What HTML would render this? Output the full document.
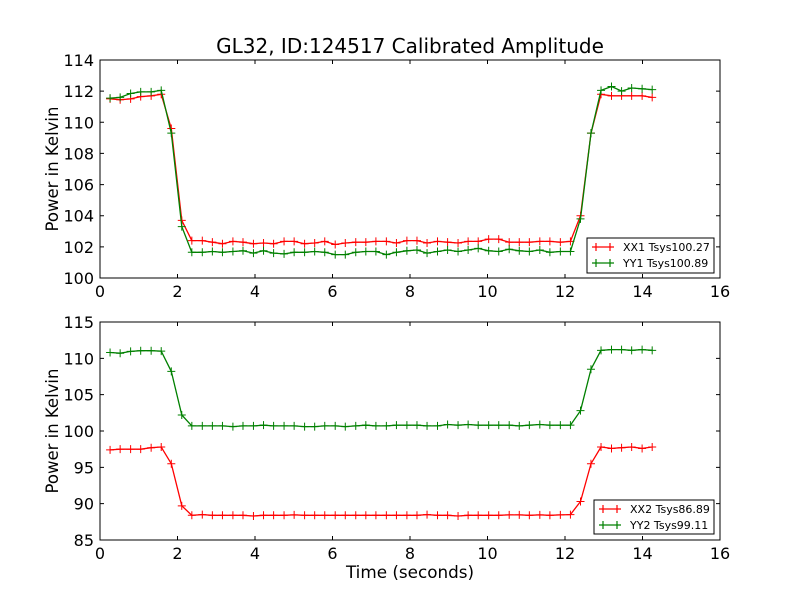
<!DOCTYPE html>
<html><head><meta charset="utf-8"><style>
body{margin:0;background:#fff;}
svg text{font-family:"DejaVu Sans","Liberation Sans",sans-serif;}
</style></head><body>
<svg id="chart" width="800" height="600" xmlns="http://www.w3.org/2000/svg">
<rect width="800" height="600" fill="#fff"/>
<text x="410" y="53" font-size="20" text-anchor="middle">GL32, ID:124517 Calibrated Amplitude</text>
</svg>
<script>
const times = [0.26,0.52,0.79,1.05,1.32,1.58,1.84,2.11,2.37,2.64,2.90,3.16,3.43,3.69,3.96,4.22,4.48,4.75,5.01,5.28,5.54,5.80,6.07,6.33,6.60,6.86,7.12,7.39,7.65,7.92,8.18,8.44,8.71,8.97,9.24,9.50,9.76,10.03,10.29,10.56,10.82,11.08,11.35,11.61,11.88,12.14,12.40,12.67,12.93,13.20,13.46,13.72,13.99,14.25];
const xx1 = [111.5,111.45,111.5,111.65,111.7,111.8,109.6,103.7,102.4,102.4,102.3,102.2,102.35,102.3,102.2,102.25,102.2,102.35,102.35,102.2,102.25,102.35,102.15,102.25,102.3,102.3,102.35,102.35,102.25,102.4,102.4,102.25,102.35,102.3,102.25,102.35,102.35,102.5,102.5,102.3,102.3,102.3,102.35,102.35,102.3,102.35,104.0,109.3,111.8,111.7,111.7,111.7,111.7,111.6];
const yy1 = [111.55,111.6,111.85,111.95,111.95,112.05,109.3,103.3,101.65,101.65,101.7,101.65,101.7,101.75,101.6,101.75,101.6,101.55,101.65,101.65,101.7,101.65,101.5,101.5,101.65,101.7,101.7,101.5,101.65,101.75,101.8,101.6,101.7,101.8,101.7,101.8,101.9,101.75,101.7,101.85,101.75,101.7,101.8,101.65,101.7,101.7,103.8,109.3,112.05,112.3,112.0,112.2,112.15,112.1];
const xx2 = [97.4,97.5,97.5,97.5,97.7,97.8,95.5,89.7,88.4,88.5,88.4,88.4,88.4,88.4,88.3,88.4,88.4,88.4,88.45,88.4,88.4,88.4,88.4,88.4,88.4,88.4,88.4,88.4,88.4,88.4,88.4,88.5,88.4,88.4,88.3,88.4,88.4,88.4,88.4,88.45,88.45,88.4,88.45,88.4,88.45,88.5,90.3,95.5,97.8,97.6,97.7,97.8,97.6,97.8];
const yy2 = [110.8,110.7,110.95,111.05,111.05,111.0,108.2,102.2,100.7,100.7,100.7,100.7,100.6,100.7,100.7,100.8,100.7,100.7,100.7,100.6,100.6,100.7,100.7,100.6,100.7,100.8,100.7,100.7,100.8,100.8,100.8,100.7,100.7,100.9,100.8,100.9,100.8,100.8,100.8,100.8,100.7,100.8,100.9,100.8,100.8,100.8,102.8,108.5,111.1,111.2,111.2,111.1,111.2,111.1];
const xTicks = [0,2,4,6,8,10,12,14,16];
const yTicksTop = [100,102,104,106,108,110,112,114];
const yTicksBot = [85,90,95,100,105,110,115];
const legendTop = ["XX1 Tsys100.27","YY1 Tsys100.89"];
const legendBot = ["XX2 Tsys86.89","YY2 Tsys99.11"];

const NS="http://www.w3.org/2000/svg";
const svg=document.getElementById('chart');
function mk(tag,attrs,parent){const e=document.createElementNS(NS,tag);for(const k in attrs)e.setAttribute(k,attrs[k]);(parent||svg).appendChild(e);return e;}

function panel(name,top,bottom,ymin,ymax,yTicks,series,colors,labels,legBox,showXLabel){
  const L=100,R=720;
  const g=mk('g',{});
  
  
  const xs=v=>L+(v-0)/(16-0)*(R-L);
  const ys=v=>bottom-(v-ymin)/(ymax-ymin)*(bottom-top);
  xTicks.forEach(t=>{
    const x=xs(t);
    const tk=mk('path',{d:`M${x},${bottom}v-4M${x},${top}v4`,stroke:'#000','stroke-width':1},g);
    
    
    const tx=mk('text',{x:x,y:bottom+19,'font-size':16,'text-anchor':'middle'},g);
    tx.textContent=t;
    
    
  });
  yTicks.forEach(t=>{
    const y=ys(t);
    const tk=mk('path',{d:`M${L},${y}h4M${R},${y}h-4`,stroke:'#000','stroke-width':1},g);
    
    
    const tx=mk('text',{x:L-6,y:y+6,'font-size':16,'text-anchor':'end'},g);
    tx.textContent=t;
    
    
  });
  series.forEach((s,si)=>{
    const pts=s.map((v,i)=>xs(times[i]).toFixed(1)+','+ys(v).toFixed(1)).join(' ');
    const pl=mk('polyline',{points:pts,fill:'none',stroke:colors[si],'stroke-width':1.3},g);
    
    
    let d='';
    s.forEach((v,i)=>{const x=xs(times[i]),y=ys(v);d+=`M${x-4},${y}h8M${x},${y-4}v8`;});
    const mkp=mk('path',{d:d,stroke:colors[si],'stroke-width':1},g);
    
    
  });
  const fr=mk('rect',{x:L,y:top,width:R-L,height:bottom-top,fill:'none',stroke:'#000','stroke-width':1},g);
  
  
  const yl=mk('text',{x:0,y:0,'font-size':16.5,'text-anchor':'middle',transform:`translate(58,${(top+bottom)/2}) rotate(-90)`},g);
  yl.textContent='Power in Kelvin';
  
  
  if(showXLabel){
    const xl=mk('text',{x:(L+R)/2,y:578,'font-size':16.8,'text-anchor':'middle'},g);
    xl.textContent='Time (seconds)';
    
    
  }
  const lg=mk('g',{},g);
  
  
  mk('rect',{x:legBox[0],y:legBox[1],width:legBox[2],height:legBox[3],fill:'#fff',stroke:'#000','stroke-width':1},lg);
  labels.forEach((lab,i)=>{
    const y=legBox[1]+9+i*16;
    const lx=legBox[0]+5;
    const ln=mk('path',{d:`M${lx},${y}h22M${lx+4},${y-4}v8M${lx+18},${y-4}v8`,stroke:colors[i],'stroke-width':1.2},lg);
    
    
    const t=mk('text',{x:lx+31,y:y+4,'font-size':11},lg);
    t.textContent=lab;
    
    
  });
}
panel('top-panel',60,278,100,114,yTicksTop,[xx1,yy1],['#ff0000','#008000'],legendTop,[587,238,127,35],false);
panel('bottom-panel',322,540,85,115,yTicksBot,[xx2,yy2],['#ff0000','#008000'],legendBot,[594,500,120,34],true);
</script>
</body></html>
